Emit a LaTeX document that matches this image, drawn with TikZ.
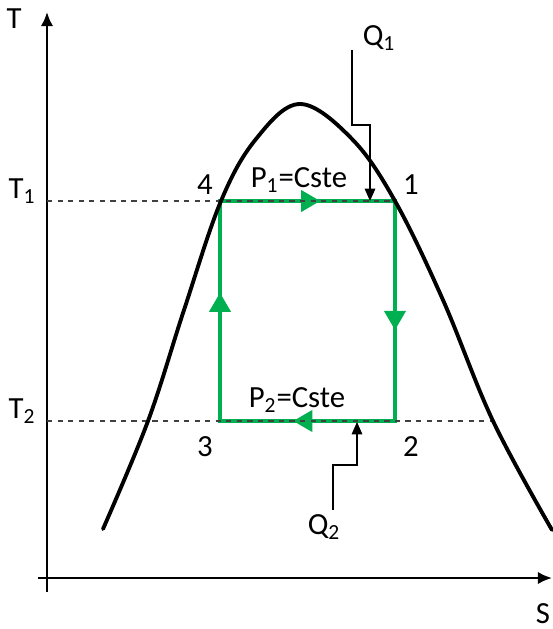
\documentclass[tikz,border=0pt]{standalone}
\usepackage{fontspec}
\setmainfont{Carlito}
\usetikzlibrary{arrows.meta,decorations.markings}
\definecolor{cyclegreen}{RGB}{0,176,80}

\begin{document}
\begin{tikzpicture}[
  x=0.02cm, y=-0.02cm,
  font=\fontsize{17.5}{20}\selectfont,
  axis/.style={line width=1.3pt, -{Latex[length=8pt,width=7pt]}},
  guide/.style={dashed, line width=0.7pt, black!75},
  dome/.style={line width=2.2pt, line cap=round},
  cyc/.style={draw=cyclegreen, line width=2.3pt, postaction={decorate},
    decoration={markings,
      mark=at position 0.127 with {\arrow{Triangle[length=11pt,width=12pt]}},
      mark=at position 0.385 with {\arrow{Triangle[length=11pt,width=12pt]}},
      mark=at position 0.629 with {\arrow{Triangle[length=11pt,width=12pt]}},
      mark=at position 0.884 with {\arrow{Triangle[length=11pt,width=12pt]}}}},
  heat/.style={line width=0.7pt, -{Triangle[length=7pt,width=6pt]}},
  lbl/.style={inner sep=1pt},
]
\useasboundingbox (0,0) rectangle (552,629);
% axes
\coordinate (ttop) at (47,12);
\coordinate (sright) at (552,578);
\draw[axis] (47,592) -- (ttop);
\draw[axis] (38,578) -- (sright);
\node[lbl] (tlab) at (14,19) {T};
\node[lbl] (slab) at (543,614) {S};
% cycle corners
\coordinate (c1) at (395,201);
\coordinate (c2) at (395,421);
\coordinate (c3) at (220,421);
\coordinate (c4) at (220,201);
\draw[cyc] (c4) -- (c1) -- (c2) -- (c3) -- cycle;
% isotherms
\coordinate (t1l) at (47,201);
\coordinate (t2l) at (47,421);
\coordinate (t2r) at (493,421);
\draw[guide] (t1l) -- (c1);
\draw[guide] (t2l) -- (t2r);
\node[lbl] (t1lab) at (22,191) {T\textsubscript{1}};
\node[lbl] (t2lab) at (22,411) {T\textsubscript{2}};
% saturation dome
\draw[dome] plot[smooth, tension=0.6] coordinates {(103,529) (148,421) (184,310) (221,201) (256,139) (300,104) (352,139) (395,201) (443,300) (493,421) (552,530)};
% state points
\node[lbl] (n1) at (411,185) {1};
\node[lbl] (n2) at (411,447) {2};
\node[lbl] (n3) at (205,447) {3};
\node[lbl] (n4) at (205,185) {4};
\node[lbl] (p1) at (299,180) {P\textsubscript{1}=Cste};
\node[lbl] (p2) at (297,400) {P\textsubscript{2}=Cste};
% heat exchanged
\node[lbl] (q1) at (379,38) {Q\textsubscript{1}};
\coordinate (q1top) at (352,50);
\coordinate (q1in) at (370,201);
\draw[heat] (q1top) -- ++(0,75) -| (q1in);
\node[lbl] (q2) at (324,527) {Q\textsubscript{2}};
\coordinate (q2bot) at (333,510);
\coordinate (q2in) at (357,422);
\draw[heat] (q2bot) -- ++(0,-45) -| (q2in);
\end{tikzpicture}
\end{document}
